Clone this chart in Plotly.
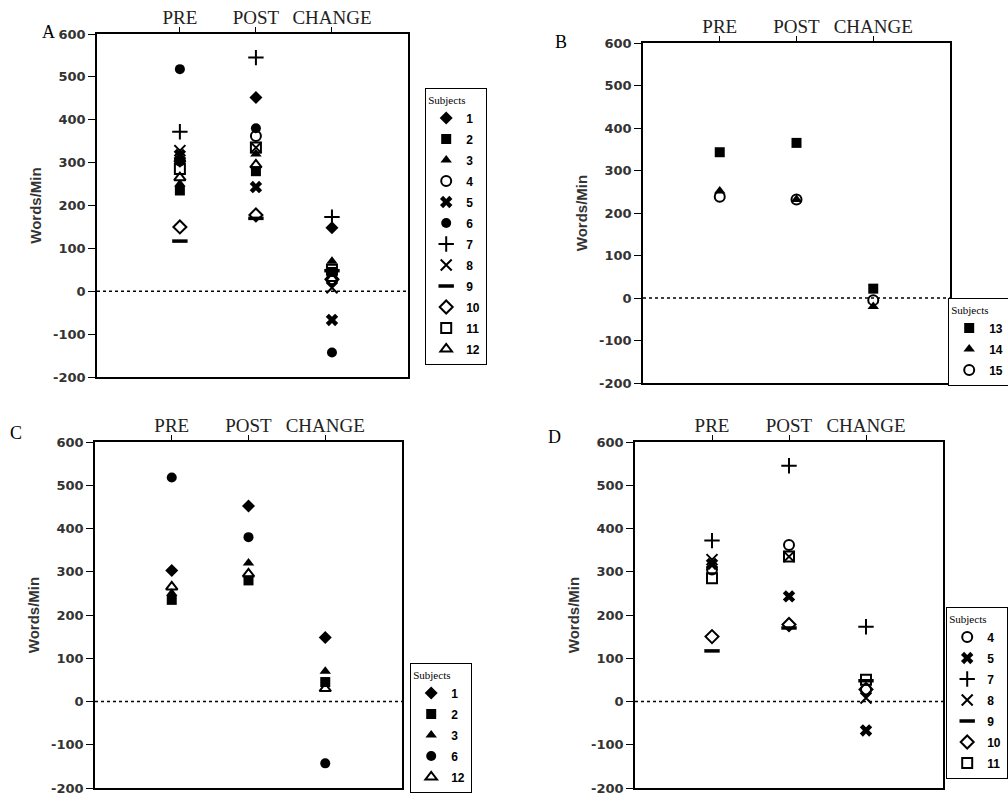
import plotly.graph_objects as go

W, H = 1008, 798

categories = ["PRE", "POST", "CHANGE"]
cat_pos = [1, 2, 3]
subjects = [str(i) for i in range(1, 16)]
pre_vals = [303, 235, 250, 305, 318, 518, 372, 328, 117, 150, 285, 265, 343, 252, 238]
post_vals = [452, 280, 320, 362, 243, 380, 545, 335, 170, 178, 335, 295, 365, 232, 232]
change_vals = [148, 45, 70, 28, -67, -143, 173, 8, 48, 28, 50, 30, 22, -20, -5]
y_ticks = [-200, -100, 0, 100, 200, 300, 400, 500, 600]
y_tick_labels = ["-200", "-100", "0", "100", "200", "300", "400", "500", "600"]

panel_names = ["A", "B", "C", "D"]
panel_subjects = [
    [1, 2, 3, 4, 5, 6, 7, 8, 9, 10, 11, 12],
    [13, 14, 15],
    [1, 2, 3, 6, 12],
    [4, 5, 7, 8, 9, 10, 11],
]

symbols = ["diamond", "square", "triangle-up", "circle-open", "x", "circle",
           "cross-thin-open", "x-thin-open", "line-ew-open", "diamond-open",
           "square-open", "triangle-up-open", "square", "triangle-up", "circle-open"]

# layout geometry (pixels)
plot_px = [(97, 408, 34, 377), (643, 950, 43, 383), (95, 402, 442, 788), (635, 943, 442, 788)]
xranges = [[-0.09, 4.0], [0.0, 4.0], [0.0, 4.0], [0.0, 4.0]]
legend_px = [(425, 88), (948, 298), (410, 663), (946, 607)]
label_px = [(40, 32), (553, 42), (8, 433), (546, 437)]

fig = go.Figure()
layout = dict(
    width=W, height=H,
    margin=dict(l=0, r=0, t=0, b=0, autoexpand=False),
    paper_bgcolor="white", plot_bgcolor="white",
    showlegend=True,
    annotations=[], shapes=[],
)

for p, name in enumerate(panel_names):
    sfx = "" if p == 0 else str(p + 1)
    xa, ya = "x" + sfx, "y" + sfx
    leg = "legend" + sfx
    x0, x1, y0, y1 = plot_px[p]
    for s in panel_subjects[p]:
        i = s - 1
        sym = symbols[i]
        is_open = sym.endswith("-open")
        marker = dict(symbol=sym, size=10 if sym != "x" else 11, color="black",
                      line=dict(color="black", width=2 if is_open else 0))
        if sym == "line-ew-open":
            marker["line"]["width"] = 3.5
            marker["size"] = 11
        if sym in ("cross-thin-open", "x-thin-open"):
            marker["size"] = 11
            marker["line"]["width"] = 2
        fig.add_trace(go.Scatter(
            x=cat_pos, y=[pre_vals[i], post_vals[i], change_vals[i]],
            mode="markers", name=subjects[i], marker=marker,
            xaxis=xa, yaxis=ya, legend=leg, legendgroup=name + subjects[i],
            hoverinfo="skip"))
    layout["xaxis" + sfx] = dict(
        domain=[x0 / W, x1 / W], range=xranges[p], anchor=ya, side="top",
        tickmode="array", tickvals=cat_pos, ticktext=categories,
        ticks="outside", ticklen=5, tickwidth=1.2, tickcolor="black",
        ticklabelstandoff=-4,
        showline=True, linecolor="black", linewidth=1.5, mirror=True,
        showgrid=False, zeroline=False,
        tickfont=dict(family="Liberation Serif", size=19, color="#222"))
    layout["yaxis" + sfx] = dict(
        domain=[1 - y1 / H, 1 - y0 / H], range=[-200, 600], anchor=xa,
        tickmode="array", tickvals=y_ticks, ticktext=y_tick_labels,
        ticks="outside", ticklen=7, tickwidth=1.2, tickcolor="black",
        showline=True, linecolor="black", linewidth=1.5, mirror=True,
        showgrid=False, zeroline=False,
        tickfont=dict(family="DejaVu Sans", size=13, color="#333", weight="bold"),
        title=dict(text="Words/Min", standoff=8,
                   font=dict(family="Liberation Sans", size=15, color="#333", weight="bold")))
    lx, ly = legend_px[p]
    layout[leg] = dict(
        x=lx / W, y=1 - ly / H, xanchor="left", yanchor="top",
        xref="paper", yref="paper",
        bgcolor="white", bordercolor="black", borderwidth=1.2,
        tracegroupgap=2, itemwidth=30,
        font=dict(family="Liberation Sans", size=12, color="black", weight="bold"),
        title=dict(text="Subjects", side="top",
                   font=dict(family="Liberation Serif", size=11, color="black",
                             weight="normal")))
    layout["shapes"].append(dict(
        type="line", xref=xa + " domain", yref=ya, x0=0, x1=1, y0=0, y1=0,
        line=dict(color="black", width=1.5, dash="dot")))
    px_, py_ = label_px[p]
    layout["annotations"].append(dict(
        text=name, x=px_ / W, y=1 - py_ / H, xref="paper", yref="paper",
        xanchor="left", yanchor="middle", showarrow=False,
        font=dict(family="Liberation Serif", size=18, color="black")))

fig.update_layout(**layout)
fig.write_html("out.html")
